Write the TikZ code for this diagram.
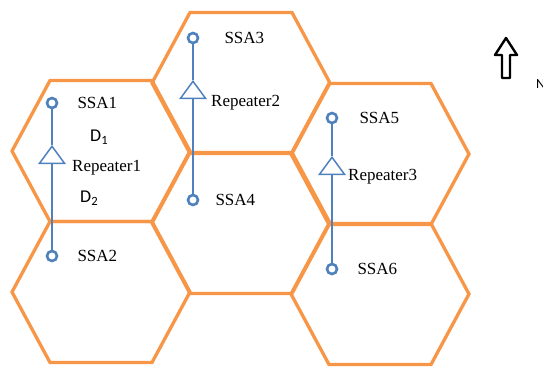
\documentclass[tikz,border=0pt]{standalone}
\usepackage{fontspec}
\setmainfont{Liberation Serif}
\newfontfamily\distfont{Carlito}
\usetikzlibrary{positioning}
\usetikzlibrary{shapes.geometric}

\definecolor{cellorange}{RGB}{247,150,70}
\definecolor{linkblue}{RGB}{79,129,189}

\tikzset{
    cell/.style={draw=cellorange, line width=3.3pt, line join=miter},
    ssa/.style={circle, draw=linkblue, line width=2.6pt, fill=white, inner sep=0pt, minimum size=10pt},
    repeater/.style={isosceles triangle, isosceles triangle apex angle=72, shape border rotate=90,
        isosceles triangle stretches, minimum width=25pt, minimum height=17pt,
        draw=linkblue, line width=1.5pt, fill=white, inner sep=0pt, anchor=apex},
    link/.style={draw=linkblue, line width=2.3pt},
    tag/.style={font=\fontsize{17}{20}\selectfont, inner sep=0pt, anchor=west},
    dist/.style={font=\distfont\fontsize{18}{21}\selectfont, inner sep=0pt, anchor=west},
}

\begin{document}
\begin{tikzpicture}[x=1pt, y=-1pt]
    \useasboundingbox (0,0) rectangle (543,368);

    % cells
    \foreach \cx/\cy in {101/151, 101/292, 241/83, 241/223, 380/154, 380/294} {
        \draw[cell] (\cx-89,\cy) -- (\cx-51,\cy-70.5) -- (\cx+51,\cy-70.5)
            -- (\cx+89,\cy) -- (\cx+51,\cy+70.5) -- (\cx-51,\cy+70.5) -- cycle;
    }

    % stations and repeaters
    \node[ssa] (s1) at (52,103) {};
    \node[ssa] (s2) at (52,256) {};
    \node[repeater] (r1) at (52,145) {};

    \node[ssa] (s3) at (193,38) {};
    \node[ssa] (s4) at (193,200) {};
    \node[repeater] (r2) at (193,80) {};

    \node[ssa] (s5) at (332,118) {};
    \node[ssa] (s6) at (332,269) {};
    \node[repeater] (r3) at (332,156) {};

    \draw[link] (s1) -- (r1.apex) (r1.south) -- (s2);
    \draw[link] (s3) -- (r2.apex) (r2.south) -- (s4);
    \draw[link] (s5) -- (r3.apex) (r3.south) -- (s6);

    % labels
    \node[tag, right=19pt of s1] (t1) {SSA1};
    \node[tag, right=19pt of s2] (t2) {SSA2};
    \node[tag, right=25pt of s3] (t3) {SSA3};
    \node[tag, right=16pt of s4] (t4) {SSA4};
    \node[tag, right=21pt of s5] (t5) {SSA5};
    \node[tag, right=19pt of s6] (t6) {SSA6};

    \node[tag] (p1) at (72,168) {Repeater1};
    \node[tag] (p2) at (211,103) {Repeater2};
    \node[tag] (p3) at (348,177) {Repeater3};

    \node[dist] (d1) at (90,137) {D\textsubscript{1}};
    \node[dist] (d2) at (80,198) {D\textsubscript{2}};

    % north marker
    \draw[line width=2.4pt, line join=round] (506,38) -- (517,55) -- (510,55) -- (510,78)
        -- (502,78) -- (502,55) -- (495,55) -- cycle;
    \node[inner sep=0pt, anchor=west, font=\distfont\fontsize{14}{16}\selectfont] (n) at (536,84) {N};
\end{tikzpicture}
\end{document}
